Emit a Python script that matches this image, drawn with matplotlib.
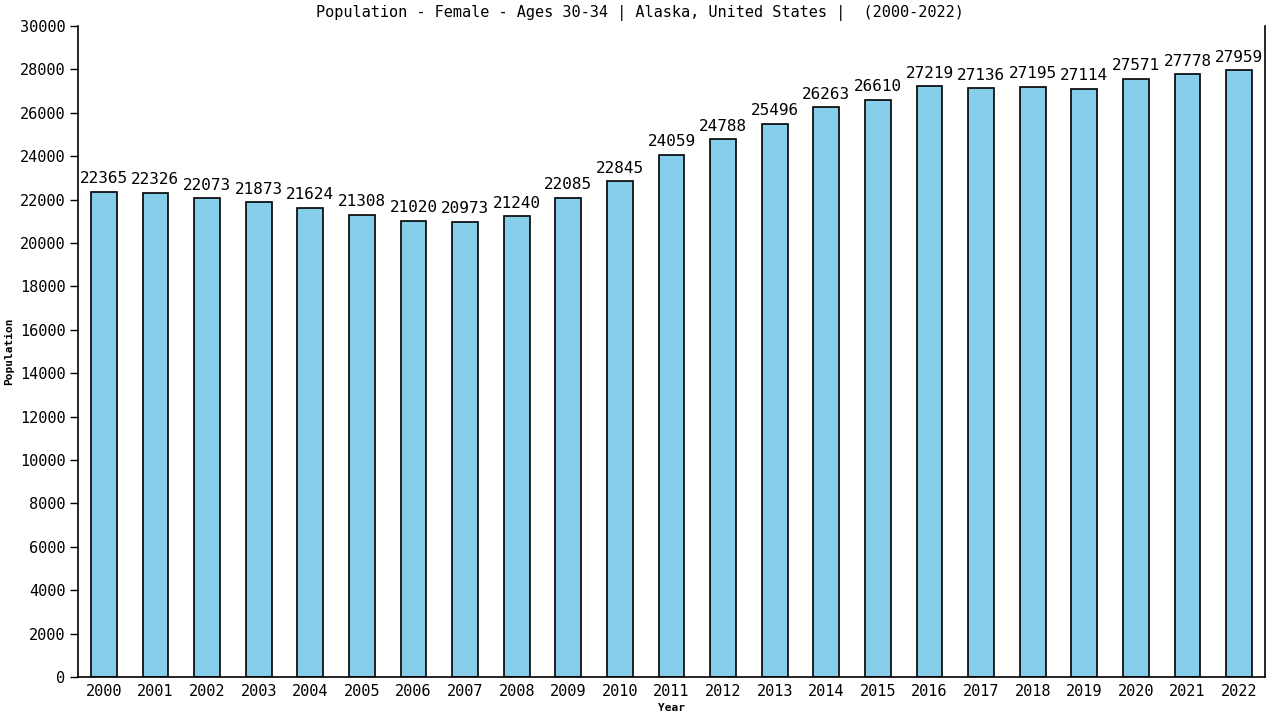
import matplotlib
matplotlib.use("Agg")
import matplotlib.pyplot as plt

years = ["2000", "2001", "2002", "2003", "2004", "2005", "2006", "2007", "2008", "2009", "2010",
         "2011", "2012", "2013", "2014", "2015", "2016", "2017", "2018", "2019", "2020", "2021", "2022"]
population = [22365, 22326, 22073, 21873, 21624, 21308, 21020, 20973, 21240, 22085, 22845,
              24059, 24788, 25496, 26263, 26610, 27219, 27136, 27195, 27114, 27571, 27778, 27959]
yticks = list(range(0, 30001, 2000))

plt.rcParams['font.family'] = ['DejaVu Sans Mono']

fig = plt.figure(figsize=(12.8, 7.2), dpi=100)
ax = fig.add_axes([78/1280, 1-677/720, (1265-78)/1280, (677-26)/720])

x = list(range(len(years)))
ax.bar(x, population, width=0.5, color="#87CEEB", edgecolor="black", linewidth=1.2)
for xi, v in zip(x, population):
    ax.text(xi, v + 250, str(v), ha="center", va="bottom", fontsize=11.5)

ax.set_xlim(-0.5, len(years) - 0.5)
ax.set_ylim(0, 30000)
ax.set_yticks(yticks)
ax.set_yticklabels([str(t) for t in yticks], fontsize=11)
ax.set_xticks(x)
ax.set_xticklabels(years, fontsize=11)
ax.tick_params(axis="x", length=0, pad=5)
ax.tick_params(axis="y", length=6, width=1, direction="out", pad=3)
ax.spines["top"].set_visible(False)
for s in ["left", "bottom", "right"]:
    ax.spines[s].set_linewidth(1.2)

fig.text(0.5, 1 - 13/720, "Population - Female - Ages 30-34 | Alaska, United States |  (2000-2022)",
         fontsize=11, ha="center", va="center")
ax.set_xlabel("Year", fontsize=8, fontweight="bold", labelpad=3)
ax.set_ylabel("Population", fontsize=8, fontweight="bold", labelpad=4)

fig.savefig("out.png", dpi=100)
